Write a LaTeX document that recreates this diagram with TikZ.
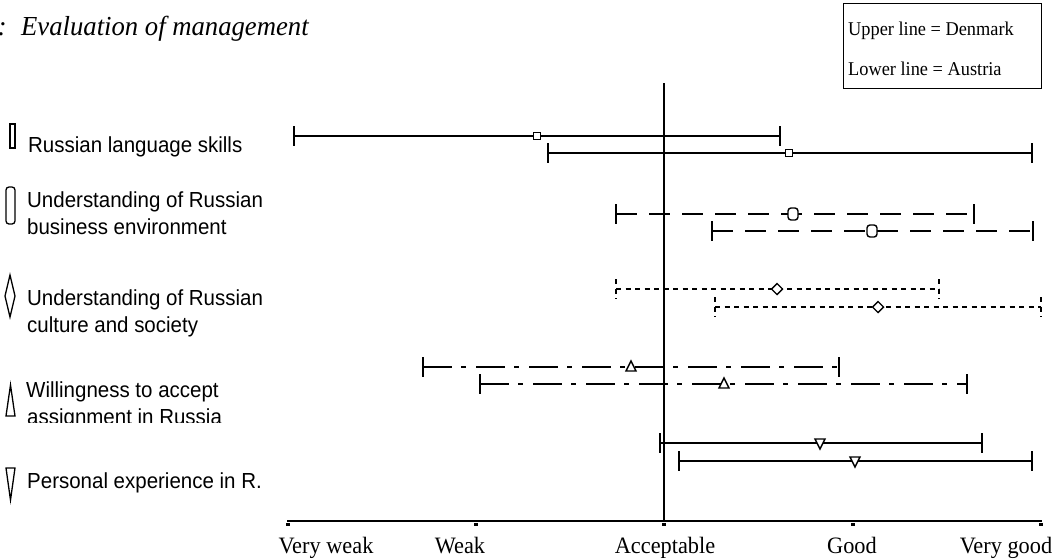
\documentclass[tikz,border=0pt]{standalone}
\usepackage{fontspec}
\setmainfont{Liberation Serif}
\newfontfamily\arialf{Liberation Sans}
\tikzset{
  bar/.style={line width=1.6pt, line cap=butt},
  longdash/.style={dash pattern=on 21pt off 12pt},
  shortdash/.style={dash pattern=on 5pt off 4.5pt},
  dashdot/.style={dash pattern=on 29pt off 9pt on 5pt off 10pt},
  mk/.style={draw=black, fill=white, line width=1.4pt, solid},
  lgd/.style={draw=black, fill=white, line width=1.3pt},
  lbl/.style={anchor=base west, inner sep=0pt, font=\arialf\fontsize{21.8}{24}\selectfont},
  axl/.style={anchor=base, inner sep=0pt, font=\fontsize{23.5}{26}\selectfont},
  leg/.style={anchor=base west, inner sep=0pt, font=\fontsize{19.5}{22}\selectfont},
}
\newcommand\lt[1]{\scalebox{0.94}[1]{#1}}
\newcommand\errbar[5]{%
  \coordinate (#1-l) at (#3,#2);
  \coordinate (#1-r) at (#4,#2);
  \draw[bar,#5] (#1-l) -- (#1-r);
  \draw[bar,#5] ([yshift=10pt]#1-l) -- ([yshift=-10pt]#1-l);
  \draw[bar,#5] ([yshift=10pt]#1-r) -- ([yshift=-10pt]#1-r);
}
\newcommand\mksq[2]{\draw[mk] (#1-3.5,#2-3.5) rectangle (#1+3.5,#2+3.5);}
\newcommand\mkrr[2]{\draw[mk,rounded corners=3pt] (#1-5,#2-6) rectangle (#1+5,#2+6);}
\newcommand\mkdi[2]{\draw[mk] (#1,#2-5.5) -- (#1+5.5,#2) -- (#1,#2+5.5) -- (#1-5.5,#2) -- cycle;}
\newcommand\mktu[2]{\draw[mk] (#1,#2-6) -- (#1+5,#2+4) -- (#1-5,#2+4) -- cycle;}
\newcommand\mktd[2]{\draw[mk] (#1,#2+6) -- (#1+5,#2-4) -- (#1-5,#2-4) -- cycle;}
\begin{document}
\begin{tikzpicture}[x=1pt,y=-1pt]
\useasboundingbox (0,0) rectangle (1060,558);
\clip (0,0) rectangle (1060,558);
\fill[white] (0,0) rectangle (1060,558);

% title
\node[anchor=base east, inner sep=0pt, font=\itshape\fontsize{27.5}{30}\selectfont] (tnum) at (7,35) {2:};
\node[anchor=base west, inner sep=0pt, font=\itshape\fontsize{27.5}{30}\selectfont] (title) at (21,35) {\scalebox{0.97}[1]{Evaluation of management}};

% legend box
\node[draw, line width=1pt, minimum width=198pt, minimum height=85pt, anchor=north west, inner sep=0pt] (legbox) at (843,3) {};
\node[leg] (leg1) at (848,35) {\scalebox{0.94}[1]{Upper line = Denmark}};
\node[leg] (leg2) at (848,75) {\scalebox{0.94}[1]{Lower line = Austria}};

% axes
\coordinate (vtop) at (664,83);
\coordinate (vbot) at (664,521);
\coordinate (axl) at (287,521);
\coordinate (axr) at (1042,521);
\draw[line width=1.6pt] (vtop) -- (vbot);
\draw[line width=1.6pt] (axl) -- (axr);
\foreach \x in {288,476,664,853,1041} {\fill (\x-2,523) rectangle (\x+2,525.5);}
\node[axl] (a1) at (326,553) {\scalebox{0.95}[1]{Very weak}};
\node[axl] (a2) at (460,553) {\scalebox{0.95}[1]{Weak}};
\node[axl] (a3) at (665,553) {\scalebox{0.95}[1]{Acceptable}};
\node[axl] (a4) at (852,553) {\scalebox{0.95}[1]{Good}};
\node[axl] (a5) at (1006,553) {\scalebox{0.95}[1]{Very good}};

% legend shapes and labels on the left
\draw[lgd] (10,124) rectangle (15,148);
\node[lbl] (l1) at (28,152) {\lt{Russian language skills}};
\draw[lgd, rounded corners=3pt] (6,187) rectangle (15,224);
\node[lbl] (l2a) at (27,207) {\lt{Understanding of Russian}};
\node[lbl] (l2b) at (27,234) {\lt{business environment}};
\draw[lgd] (10,275) -- (15,296) -- (10,317) -- (5,296) -- cycle;
\node[lbl] (l3a) at (27,305) {\lt{Understanding of Russian}};
\node[lbl] (l3b) at (27,332) {\lt{culture and society}};
\draw[lgd] (10.5,385) -- (15,416) -- (6,416) -- cycle;
\node[lbl] (l4a) at (26,397) {\lt{Willingness to accept}};
\begin{scope}
\clip (0,400) rectangle (280,422.5);
\node[lbl] (l4b) at (27,424) {\lt{assignment in Russia}};
\end{scope}
\draw[lgd] (6,468) -- (15,468) -- (10.5,500) -- cycle;
\node[lbl] (l5) at (27,488) {\lt{Personal experience in R.}};

% bars
\errbar{r1u}{136}{294}{780}{solid}
\mksq{537}{136}
\errbar{r1l}{153}{548}{1032}{solid}
\mksq{789}{153}

\errbar{r2u}{214}{616}{974}{longdash}
\mkrr{793}{214}
\errbar{r2l}{231}{712}{1033}{longdash}
\mkrr{872}{231}

\errbar{r3u}{289}{616}{939}{shortdash}
\mkdi{777}{289}
\errbar{r3l}{307}{715}{1041}{shortdash}
\mkdi{878}{307}

\errbar{r4u}{367}{423}{839}{dashdot}
\mktu{631}{367}
\errbar{r4l}{384}{480}{967}{dashdot}
\mktu{724}{384}

\errbar{r5u}{443}{660}{982}{solid}
\mktd{820}{443}
\errbar{r5l}{461}{679}{1032}{solid}
\mktd{855}{461}
\end{tikzpicture}
\end{document}
